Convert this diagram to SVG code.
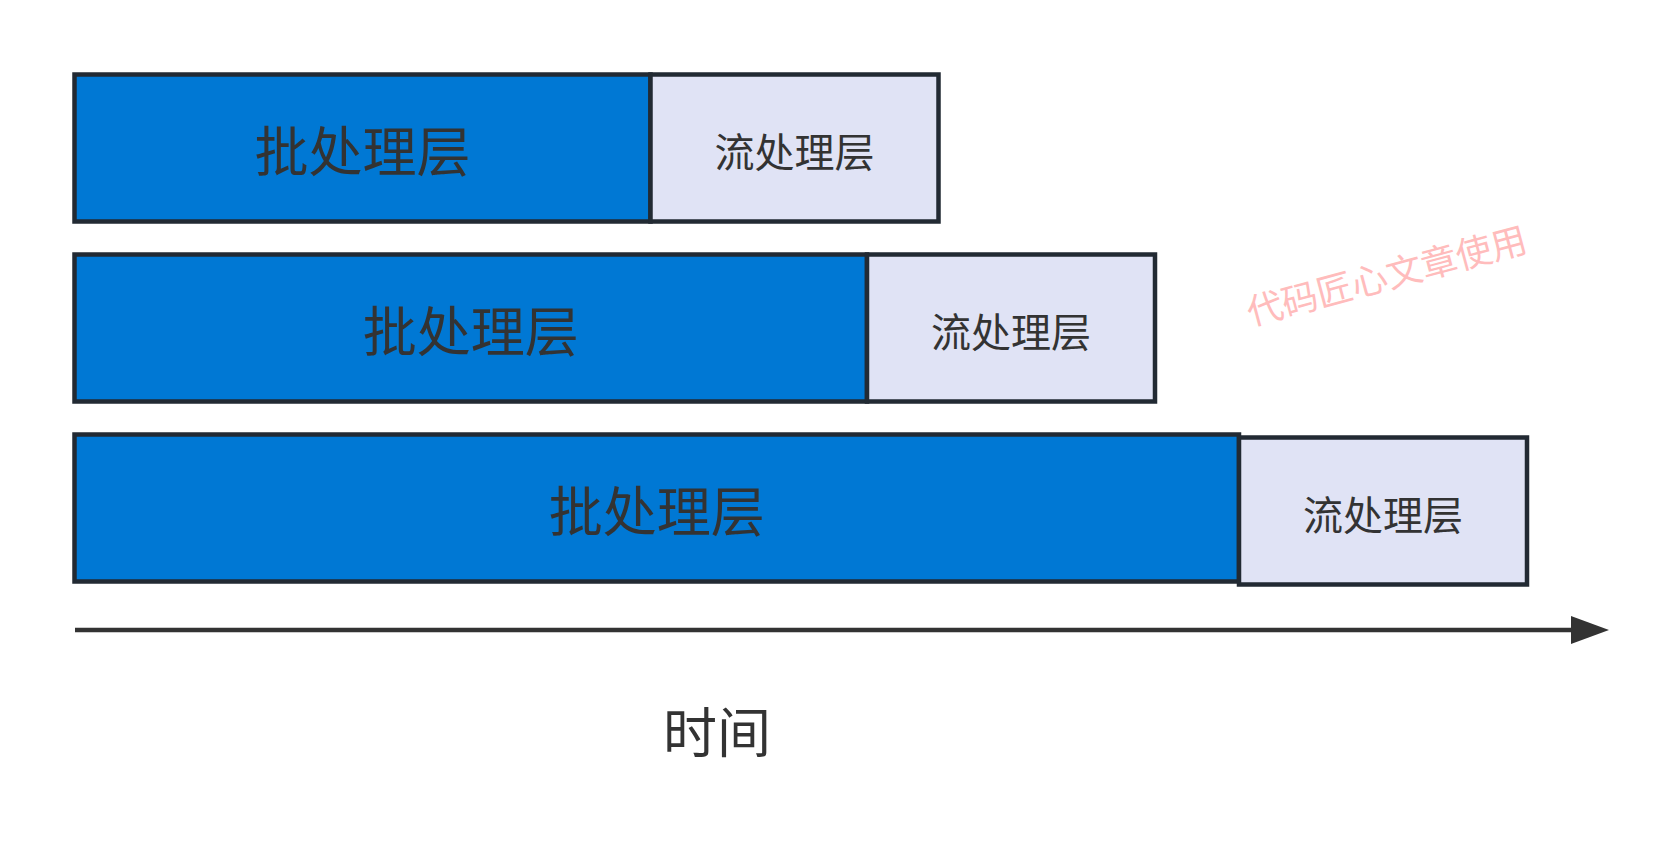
<svg xmlns="http://www.w3.org/2000/svg" width="1674" height="864" viewBox="0 0 1674 864">
<style>
.batch{fill:#0078d4;stroke:#222a33;stroke-width:4.5}
.stream{fill:#e0e3f5;stroke:#222a33;stroke-width:4.5}
.t{font-family:"Noto Sans CJK SC","Noto Sans",sans-serif;fill:#333333;text-anchor:middle;dominant-baseline:central}
.big{font-size:54px}
.small{font-size:40px}
</style>
<defs>
<marker id="ah" markerWidth="38" markerHeight="28" refX="0" refY="14" orient="auto" markerUnits="userSpaceOnUse">
<path d="M0,0 L38,14 L0,28 Z" fill="#333333"/>
</marker>
</defs>
<rect width="1674" height="864" fill="#ffffff"/>
<g id="row1-batch"><rect class="batch" x="74.5" y="74.5" width="576" height="147"/><text class="t big" x="362.5" y="148">批处理层</text></g>
<g id="row1-stream"><rect class="stream" x="650.5" y="74.5" width="288" height="147"/><text class="t small" x="794.5" y="150">流处理层</text></g>
<g id="row2-batch"><rect class="batch" x="74.5" y="254.5" width="792.5" height="147"/><text class="t big" x="470.75" y="328">批处理层</text></g>
<g id="row2-stream"><rect class="stream" x="867" y="254.5" width="288" height="147"/><text class="t small" x="1011" y="330">流处理层</text></g>
<g id="row3-batch"><rect class="batch" x="74.5" y="434.5" width="1164.5" height="147"/><text class="t big" x="656.75" y="508">批处理层</text></g>
<g id="row3-stream"><rect class="stream" x="1239" y="437.5" width="288" height="147"/><text class="t small" x="1383" y="513">流处理层</text></g>
<g id="connectors"><line x1="75" y1="630" x2="1571" y2="630" stroke="#333333" stroke-width="4.5" marker-end="url(#ah)"/></g>
<g id="time-label"><text class="t big" x="717" y="729">时间</text></g>
<g id="watermark"><text class="t" x="1386" y="273" font-size="36" style="fill:#ffbcbc" transform="rotate(-15 1386 273)">代码匠心文章使用</text></g>
</svg>
